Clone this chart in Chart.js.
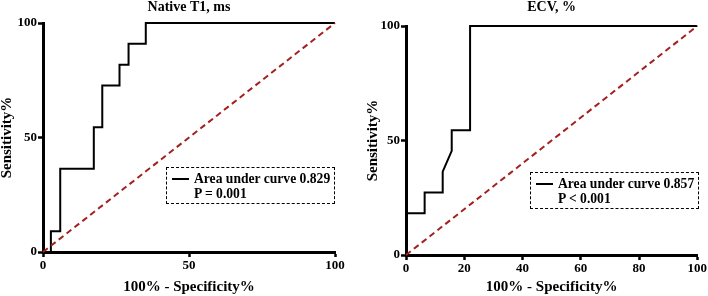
<!DOCTYPE html>
<html>
<head>
<meta charset="utf-8">
<script src="https://cdn.jsdelivr.net/npm/chart.js@4.4.1/dist/chart.umd.min.js"></script>
<style>
    body {
        margin: 0;
        background: #ffffff;
        font-family: "Liberation Serif", "Times New Roman", serif;
    }
    #wrap {
        position: relative;
        width: 708px;
        height: 296px;
        overflow: hidden;
    }
    .panel {
        position: absolute;
        top: 0;
        width: 354px;
        height: 296px;
    }
    .auc-box {
        position: absolute;
        width: 167px;
        height: 35px;
        border: 1px dashed #000;
        font-weight: bold;
        font-size: 13.6px;
        line-height: 15px;
        color: #000;
    }
    .auc-box .swatch {
        position: absolute;
        left: 5px;
        top: 10px;
        width: 17px;
        height: 2px;
        background: #000;
    }
    .auc-box .txt {
        position: absolute;
        left: 27px;
        top: 3px;
        white-space: nowrap;
    }
</style>
</head>
<body>
<div id="wrap">
    <div class="panel" style="left:0"><canvas id="t1-roc" width="354" height="296"></canvas></div>
    <div class="panel" style="left:354px"><canvas id="ecv-roc" width="354" height="296"></canvas></div>
    <div class="auc-box" style="left:166px; top:167px">
        <span class="swatch"></span>
        <div class="txt">Area under curve 0.829<br>P = 0.001</div>
    </div>
    <div class="auc-box" style="left:530px; top:172px">
        <span class="swatch"></span>
        <div class="txt">Area under curve 0.857<br>P &lt; 0.001</div>
    </div>
</div>
<script>
// ROC curve points (100% - specificity, sensitivity)
const t1FalsePos = [0, 2.7, 2.7, 5.9, 5.9, 17.4, 17.4, 20.3, 20.3, 26.2, 26.2, 29.3, 29.3, 35.2, 35.2, 100];
const t1Sens = [0, 0, 9.1, 9.1, 36.4, 36.4, 54.5, 54.5, 72.7, 72.7, 81.8, 81.8, 90.9, 90.9, 100, 100];

const ecvFalsePos = [0, 0, 6.4, 6.4, 12.6, 12.6, 15.7, 15.7, 22.0, 22.0, 100];
const ecvSens = [0, 18.2, 18.2, 27.3, 27.3, 36.4, 45.5, 54.5, 54.5, 100, 100];

const refLine = [0, 100];

const t1Ticks = [0, 50, 100];
const ecvXTicks = [0, 20, 40, 60, 80, 100];
const sensTicks = [0, 50, 100];

const serif = '"Liberation Serif", "Times New Roman", serif';

function toPoints(xs, ys) {
    return xs.map((x, i) => ({ x: x, y: ys[i] }));
}

function makeRoc(canvasId, cfg) {
    const ctx = document.getElementById(canvasId).getContext('2d');
    new Chart(ctx, {
        type: 'scatter',
        data: {
            datasets: [
                {
                    data: toPoints(refLine, refLine),
                    showLine: true,
                    borderColor: '#a3201e',
                    borderWidth: 2,
                    borderDash: [6, 4],
                    pointRadius: 0,
                    clip: false
                },
                {
                    data: toPoints(cfg.xs, cfg.ys),
                    showLine: true,
                    borderColor: '#000000',
                    borderWidth: 2,
                    pointRadius: 0,
                    clip: false
                }
            ]
        },
        options: {
            responsive: false,
            animation: false,
            layout: {
                padding: { left: 0, right: cfg.padRight, top: 0, bottom: 0 }
            },
            scales: {
                x: {
                    type: 'linear',
                    min: 0,
                    max: 100,
                    afterBuildTicks: function(scale) {
                        scale.ticks = cfg.xTicks.map(v => ({ value: v }));
                    },
                    afterFit: function(scale) {
                        scale.height = cfg.xAxisHeight;
                    },
                    grid: {
                        drawOnChartArea: false,
                        drawTicks: true,
                        tickLength: 5,
                        tickWidth: 2.5,
                        tickColor: '#000'
                    },
                    border: { display: true, color: '#000', width: 3 },
                    ticks: {
                        color: '#000',
                        padding: 1,
                        maxRotation: 0,
                        font: { family: serif, size: 13, weight: 'bold' }
                    },
                    title: {
                        display: true,
                        text: '100% - Specificity%',
                        color: '#000',
                        padding: { top: 0, bottom: 1 },
                        font: { family: serif, size: 15, weight: 'bold', lineHeight: 1 }
                    }
                },
                y: {
                    type: 'linear',
                    min: 0,
                    max: 100,
                    afterBuildTicks: function(scale) {
                        scale.ticks = sensTicks.map(v => ({ value: v }));
                    },
                    afterFit: function(scale) {
                        scale.width = cfg.yAxisWidth;
                    },
                    grid: {
                        drawOnChartArea: false,
                        drawTicks: true,
                        tickLength: 5,
                        tickWidth: 2.5,
                        tickColor: '#000'
                    },
                    border: { display: true, color: '#000', width: 3 },
                    ticks: {
                        color: '#000',
                        padding: 1,
                        font: { family: serif, size: 13, weight: 'bold' }
                    },
                    title: {
                        display: true,
                        text: 'Sensitivity%',
                        color: '#000',
                        padding: { top: cfg.yTitlePad, bottom: 0 },
                        font: { family: serif, size: 15, weight: 'bold', lineHeight: 1 }
                    }
                }
            },
            plugins: {
                legend: { display: false },
                tooltip: { enabled: false },
                title: {
                    display: true,
                    text: cfg.title,
                    fullSize: false,
                    color: '#000',
                    padding: cfg.titlePad,
                    font: { family: serif, size: 14, weight: 'bold', lineHeight: 1 }
                }
            }
        }
    });
}

makeRoc('t1-roc', {
    title: 'Native T1, ms',
    xs: t1FalsePos,
    ys: t1Sens,
    xTicks: t1Ticks,
    padRight: 19,
    yAxisWidth: 43,
    xAxisHeight: 44,
    yTitlePad: 0,
    titlePad: { top: 0, bottom: 9 }
});

makeRoc('ecv-roc', {
    title: 'ECV, %',
    xs: ecvFalsePos,
    ys: ecvSens,
    xTicks: ecvXTicks,
    padRight: 9,
    yAxisWidth: 52,
    xAxisHeight: 41,
    yTitlePad: 12,
    titlePad: { top: 0.5, bottom: 11.5 }
});
</script>
</body>
</html>
